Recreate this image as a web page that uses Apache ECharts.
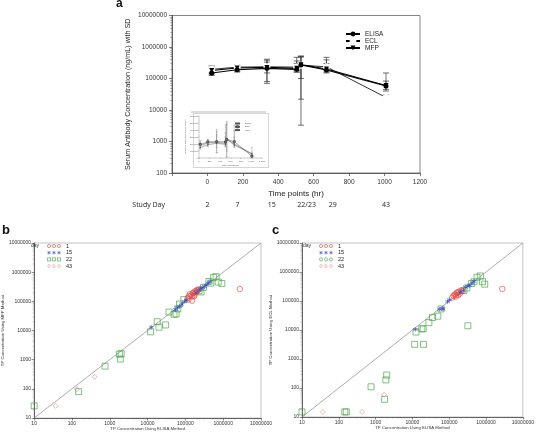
<!DOCTYPE html>
<html><head><meta charset="utf-8">
<script src="https://cdn.jsdelivr.net/npm/echarts@6/dist/echarts.min.js"></script>
<style>html,body{margin:0;padding:0;background:#fff}#c{width:537px;height:440px}</style>
</head><body><div id="c"></div>
<script>
// ---------- Panel a data ----------
const times = [24, 168, 336, 504, 528, 672, 1008];
const elisaMean = [150000, 190000, 210000, 195000, 270000, 185000, 58000];
const elisaHi   = [230000, 260000, 330000, 470000, 500000, 390000, 150000];
const elisaLo   = [125000, 160000, 80000, 160000, 22000, 150000, 40000];
const eclMean   = [195000, 230000, 235000, 230000, 265000, 235000, 25000];
const eclHi     = [250000, 270000, 410000, 360000, 520000, 470000, 30000];
const eclLo     = [150000, 190000, 150000, 180000, 3300, 180000, 22000];
const mfpMean   = [180000, 215000, 225000, 210000, 275000, 200000, 60000];
const mfpHi     = [210000, 240000, 380000, 300000, 480000, 300000, 83000];
const mfpLo     = [140000, 170000, 70000, 160000, 100000, 160000, 45000];
const studyDays = ['2', '7', '15', '22/23', '29', '43'];
const studyDayHours = [0, 170, 363, 560, 708, 1008];

// ---------- Panel b data (ELISA vs MFP) ----------
const bDay1 = [[115000,130000],[125000,150000],[130000,175000],[140000,160000],[150000,105000],[155000,190000],[165000,200000],[175000,170000],[180000,220000],[190000,200000],[200000,240000],[210000,230000],[230000,260000],[150000,145000],[120000,115000],[170000,150000],[2750000,265000]];
const bDay15 = [[12500,13000],[55000,52000],[62000,60000],[70000,68000],[80000,80000],[95000,100000],[105000,110000],[190000,200000],[230000,240000],[260000,280000],[290000,300000],[320000,320000],[350000,360000],[400000,420000],[450000,470000]];
const bDay22 = [[10,26],[150,80],[750,600],[1800,1550],[1900,1050],[2000,1600],[12000,9000],[18000,20000],[20000,13000],[30000,15500],[37000,43000],[50000,36000],[57000,37000],[63000,55000],[70000,81000],[91000,115000],[230000,230000],[260000,210000],[300000,300000],[420000,480000],[470000,420000],[560000,660000],[650000,700000],[740000,460000],[920000,410000]];
const bDay43 = [[37,26],[135,98],[400,260]];

// ---------- Panel c data (ELISA vs ECL) ----------
const cDay1 = [[120000,130000],[130000,150000],[140000,170000],[150000,140000],[160000,190000],[170000,200000],[175000,160000],[185000,210000],[195000,180000],[210000,230000],[230000,220000],[150000,160000],[2750000,260000]];
const cDay15 = [[12000,10500],[55000,52000],[65000,55000],[68000,53000],[90000,95000],[100000,110000],[200000,200000],[240000,230000],[280000,300000],[320000,330000],[360000,350000],[420000,420000],[470000,480000]];
const cDay22 = [[10,15],[145,15],[160,15],[750,110],[1750,41],[1900,190],[2000,280],[11500,3200],[20000,3200],[12500,8500],[18000,11000],[19500,11000],[28000,18000],[35000,27000],[49000,30000],[60000,53000],[250000,230000],[300000,280000],[320000,14000],[400000,400000],[470000,460000],[570000,660000],[700000,730000],[800000,460000],[920000,380000]];
const cDay43 = [[37,15],[430,15],[1700,59]];

const identityLine = [[10,10],[10000000,10000000]];

// ---------- styling ----------
const FONT = 'Liberation Sans, Arial, sans-serif';
const RED = '#e5403c', BLUE = '#3a48c0', GREEN = '#3a9f3c', PINK = '#e08a88';
const STAR = 'path://M5,0L5,10M0.7,2.5L9.3,7.5M0.7,7.5L9.3,2.5';
const TRI_DOWN = 'path://M0,0L10,0L5,9Z';

const pairs = (xs, ys) => xs.map((x, i) => [x, ys[i]]);
const errs = (xs, lo, hi) => xs.map((x, i) => [x, lo[i], hi[i]]);
const logFmt = v => String(Math.round(v));

function errRender(capHalf, color, lw) {
  return function (params, api) {
    const x = api.value(0), lo = api.value(1), hi = api.value(2);
    const a = api.coord([x, hi]), b = api.coord([x, lo]);
    const st = { stroke: color, lineWidth: lw };
    return { type: 'group', children: [
      { type: 'line', shape: { x1: a[0], y1: a[1], x2: b[0], y2: b[1] }, style: st },
      { type: 'line', shape: { x1: a[0] - capHalf, y1: a[1], x2: a[0] + capHalf, y2: a[1] }, style: st },
      { type: 'line', shape: { x1: b[0] - capHalf, y1: b[1], x2: b[0] + capHalf, y2: b[1] }, style: st }
    ]};
  };
}

function logAxis(gridIndex, min, name, gap) {
  return {
    gridIndex, type: 'log', logBase: 10, min, max: 10000000,
    axisLine: { onZero: false, lineStyle: { color: '#444', width: 0.8 } },
    axisTick: { length: 2.5, lineStyle: { color: '#444', width: 0.6 } },
    minorTick: { show: true, splitNumber: 9, length: 1.5, lineStyle: { color: '#666', width: 0.4 } },
    splitLine: { show: false },
    axisLabel: { fontSize: 5, color: '#333', fontFamily: FONT, margin: 3, formatter: logFmt },
    name, nameLocation: 'middle', nameGap: gap,
    nameTextStyle: { fontSize: 4.3, color: '#333', fontFamily: FONT }
  };
}

function scatterSet(xi, yi, d1, d15, d22, d43) {
  const base = (data, symbol, size, color) => ({
    type: 'scatter', xAxisIndex: xi, yAxisIndex: yi, data, symbol, symbolSize: size,
    itemStyle: { color: 'rgba(0,0,0,0)', borderColor: color, borderWidth: 0.8 }, z: 3
  });
  return [
    { type: 'line', xAxisIndex: xi, yAxisIndex: yi, data: identityLine, showSymbol: false,
      lineStyle: { color: '#888', width: 0.7 }, z: 2 },
    base(d22, 'rect', 6, GREEN),
    base(d43, 'diamond', 5, PINK),
    base(d1, 'circle', 5.5, RED),
    base(d15, STAR, 4.5, BLUE)
  ];
}

function legendGraphic(x0, y0, markerX, labelX, shapes) {
  const labels = ['1', '15', '22', '43'];
  const colors = [RED, BLUE, GREEN, PINK];
  const els = [{ type: 'text', left: x0, top: y0 - 3, style: { text: 'day', fontSize: 5, fill: '#333', fontFamily: FONT } }];
  for (let r = 0; r < 4; r++) {
    const cy = y0 + r * 6.7;
    for (let k = 0; k < 3; k++) {
      const cx = markerX + k * 5;
      const st = { fill: 'none', stroke: colors[r], lineWidth: 0.6 };
      const sh = shapes[r];
      if (sh === 'circle') els.push({ type: 'circle', shape: { cx, cy, r: 1.6 }, style: st });
      else if (sh === 'rect') els.push({ type: 'rect', shape: { x: cx - 1.6, y: cy - 1.6, width: 3.2, height: 3.2 }, style: st });
      else if (sh === 'diamond') els.push({ type: 'polygon', shape: { points: [[cx, cy - 1.8], [cx + 1.4, cy], [cx, cy + 1.8], [cx - 1.4, cy]] }, style: st });
      else els.push({ type: 'group', children: [
        { type: 'line', shape: { x1: cx, y1: cy - 1.8, x2: cx, y2: cy + 1.8 }, style: st },
        { type: 'line', shape: { x1: cx - 1.6, y1: cy - 0.9, x2: cx + 1.6, y2: cy + 0.9 }, style: st },
        { type: 'line', shape: { x1: cx - 1.6, y1: cy + 0.9, x2: cx + 1.6, y2: cy - 0.9 }, style: st }
      ]});
    }
    els.push({ type: 'text', left: labelX, top: cy - 3, style: { text: labels[r], fontSize: 5.5, fill: '#222', fontFamily: FONT } });
  }
  return els;
}

const chart = echarts.init(document.getElementById('c'), null, { renderer: 'canvas' });

const option = {
  animation: false,
  backgroundColor: '#fff',
  textStyle: { fontFamily: FONT },
  grid: [
    { left: 172, top: 15.5, width: 248, height: 157.5, show: true, borderColor: '#666', borderWidth: 0.8, containLabel: false },
    { left: 199, top: 116, width: 63, height: 42, show: false, containLabel: false },
    { left: 30, top: 243, width: 231, height: 175, show: true, borderColor: '#aaa', borderWidth: 0.7, containLabel: false },
    { left: 302, top: 243, width: 231, height: 174, show: true, borderColor: '#aaa', borderWidth: 0.7, containLabel: false }
  ],
  legend: [
    { data: ['ELISA', 'ECL', 'MFP'], orient: 'vertical', left: 340, top: 25.5, itemGap: 0,
      itemWidth: 14, itemHeight: 6, textStyle: { fontSize: 6.5, color: '#222', fontFamily: FONT }, selectedMode: false },
    { data: ['ELISA ', 'ECL ', 'MFP '], orient: 'vertical', left: 229, top: 117, itemGap: 0,
      itemWidth: 5, itemHeight: 2, textStyle: { fontSize: 2.5, color: '#555', fontFamily: FONT }, selectedMode: false }
  ],
  xAxis: [
    { gridIndex: 0, type: 'value', min: -200, max: 1200, interval: 200,
      axisLine: { onZero: false, lineStyle: { color: '#444', width: 0.8 } },
      axisTick: { length: 3, lineStyle: { color: '#444', width: 0.7 } },
      splitLine: { show: false },
      axisLabel: { fontSize: 6.5, color: '#333', margin: 6, formatter: v => (v < 0 ? '' : String(v)) },
      name: 'Time points (hr)', nameLocation: 'middle', nameGap: 17,
      nameTextStyle: { fontSize: 8, color: '#222' } },
    { gridIndex: 0, type: 'value', min: -200, max: 1200, position: 'bottom', offset: 32,
      axisLine: { show: false, onZero: false }, axisTick: { show: false }, splitLine: { show: false },
      axisLabel: { customValues: studyDayHours, margin: -4, fontSize: 7, color: '#222', fontFamily: 'Open Sans',
        formatter: v => { const i = studyDayHours.indexOf(v); return i >= 0 ? studyDays[i] : ''; } },
      name: 'Study Day', nameLocation: 'start', nameGap: 7,
      nameTextStyle: { fontSize: 7, color: '#222', fontFamily: 'Open Sans' } },
    { gridIndex: 1, type: 'value', min: 0, max: 1200, interval: 200,
      axisLine: { onZero: false, lineStyle: { color: '#777', width: 0.4 } },
      axisTick: { length: 1, lineStyle: { color: '#777', width: 0.4 } },
      splitLine: { show: false },
      axisLabel: { fontSize: 2.5, color: '#555', margin: 1.5 },
      name: 'Time points (hr)', nameLocation: 'middle', nameGap: 4.5,
      nameTextStyle: { fontSize: 2.5, color: '#555' } },
    logAxis(2, 10, 'TP Concentration Using ELISA Method', 9),
    logAxis(3, 10, 'TP Concentration Using ELISA Method', 9)
  ],
  yAxis: [
    { gridIndex: 0, type: 'log', logBase: 10, min: 100, max: 10000000,
      axisLine: { onZero: false, lineStyle: { color: '#444', width: 0.8 } },
      axisTick: { length: 3, lineStyle: { color: '#444', width: 0.7 } },
      minorTick: { show: true, splitNumber: 9, length: 1.8, lineStyle: { color: '#666', width: 0.5 } },
      splitLine: { show: false },
      axisLabel: { fontSize: 6.5, color: '#333', margin: 5, formatter: logFmt },
      name: 'Serum Antibody Concentration (ng/mL) with SD', nameLocation: 'middle', nameGap: 40,
      nameTextStyle: { fontSize: 7.2, color: '#222' } },
    { gridIndex: 1, type: 'value', min: 0, max: 600000, interval: 100000,
      axisLine: { onZero: false, lineStyle: { color: '#777', width: 0.4 } },
      axisTick: { length: 1, lineStyle: { color: '#777', width: 0.4 } },
      splitLine: { show: false },
      axisLabel: { fontSize: 2.2, color: '#555', margin: 1 },
      name: 'Serum Antibody Concentration (ng/mL)', nameLocation: 'middle', nameGap: 8,
      nameTextStyle: { fontSize: 2, color: '#555' } },
    logAxis(2, 10, 'TP Concentration Using MFP Method', 24),
    logAxis(3, 10, 'TP Concentration Using ECL Method', 26)
  ],
  series: [
    { type: 'custom', xAxisIndex: 0, yAxisIndex: 0, data: errs(times, elisaLo, elisaHi), renderItem: errRender(3, '#333', 0.7), z: 1, silent: true, encode: { x: 0, y: [1, 2] } },
    { type: 'custom', xAxisIndex: 0, yAxisIndex: 0, data: errs(times, eclLo, eclHi), renderItem: errRender(3, '#333', 0.7), z: 1, silent: true, encode: { x: 0, y: [1, 2] } },
    { type: 'custom', xAxisIndex: 0, yAxisIndex: 0, data: errs(times, mfpLo, mfpHi), renderItem: errRender(3, '#333', 0.7), z: 1, silent: true, encode: { x: 0, y: [1, 2] } },
    { name: 'ELISA', type: 'line', xAxisIndex: 0, yAxisIndex: 0, data: pairs(times, elisaMean),
      symbol: 'circle', symbolSize: 5, color: '#000', lineStyle: { color: '#000', width: 1.1 }, z: 4 },
    { name: 'ECL', type: 'line', xAxisIndex: 0, yAxisIndex: 0, data: pairs(times, eclMean),
      symbol: 'emptyCircle', symbolSize: 5, color: '#000', itemStyle: { color: '#fff', borderColor: '#000', borderWidth: 0.8 },
      lineStyle: { color: '#000', width: 0.8 }, z: 3 },
    { name: 'MFP', type: 'line', xAxisIndex: 0, yAxisIndex: 0, data: pairs(times, mfpMean),
      symbol: TRI_DOWN, symbolSize: 5, color: '#000', lineStyle: { color: '#000', width: 1.1 }, z: 3 },
    { type: 'custom', xAxisIndex: 2, yAxisIndex: 1, data: errs(times, elisaLo, elisaHi), renderItem: errRender(1, '#777', 0.35), silent: true, encode: { x: 0, y: [1, 2] } },
    { type: 'custom', xAxisIndex: 2, yAxisIndex: 1, data: errs(times, eclLo, eclHi), renderItem: errRender(1, '#777', 0.35), silent: true, encode: { x: 0, y: [1, 2] } },
    { type: 'custom', xAxisIndex: 2, yAxisIndex: 1, data: errs(times, mfpLo, mfpHi), renderItem: errRender(1, '#777', 0.35), silent: true, encode: { x: 0, y: [1, 2] } },
    { name: 'ELISA ', type: 'line', xAxisIndex: 2, yAxisIndex: 1, data: pairs(times, elisaMean), symbol: 'circle', symbolSize: 1.3, color: '#555', lineStyle: { color: '#555', width: 0.5 } },
    { name: 'ECL ', type: 'line', xAxisIndex: 2, yAxisIndex: 1, data: pairs(times, eclMean), symbol: 'emptyCircle', symbolSize: 1.3, color: '#555', lineStyle: { color: '#555', width: 0.5 } },
    { name: 'MFP ', type: 'line', xAxisIndex: 2, yAxisIndex: 1, data: pairs(times, mfpMean), symbol: TRI_DOWN, symbolSize: 1.3, color: '#555', lineStyle: { color: '#555', width: 0.5 } },
    ...scatterSet(3, 2, bDay1, bDay15, bDay22, bDay43),
    ...scatterSet(4, 3, cDay1, cDay15, cDay22, cDay43)
  ],
  graphic: [
    { type: 'text', left: 116, top: -2, style: { text: 'a', fontSize: 12, fontWeight: 'bold', fill: '#111', fontFamily: FONT } },
    { type: 'text', left: 2, top: 224, style: { text: 'b', fontSize: 13, fontWeight: 'bold', fill: '#111', fontFamily: FONT } },
    { type: 'text', left: 272, top: 224, style: { text: 'c', fontSize: 13, fontWeight: 'bold', fill: '#111', fontFamily: FONT } },
    { type: 'rect', left: 191, top: 111, shape: { width: 75, height: 54 }, style: { fill: 'none', stroke: '#bbb', lineWidth: 0.6 } },
    { type: 'rect', left: 191, top: 111, shape: { width: 75, height: 2 }, style: { fill: '#ddd' } },
    ...legendGraphic(31, 246, 49, 66, ['circle', 'star', 'rect', 'diamond']),
    ...legendGraphic(303, 246, 321, 338, ['circle', 'star', 'circle', 'diamond'])
  ]
};
chart.setOption(option);
</script></body></html>
